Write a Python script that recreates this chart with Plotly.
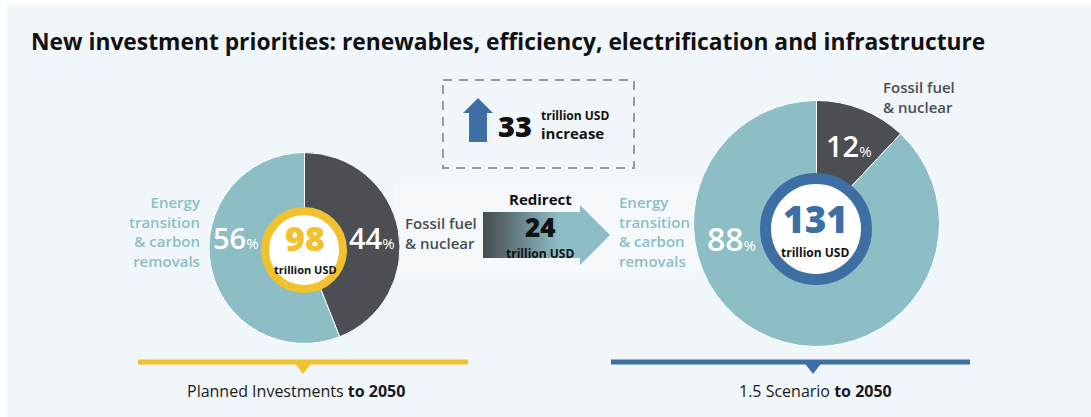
import plotly.graph_objects as go

W, H = 1091, 417

# ---------------- data ----------------
categories = ["Fossil fuel & nuclear", "Energy transition & carbon removals"]
planned_share = [44, 56]        # % of planned investments to 2050
scenario_share = [12, 88]       # % of 1.5 scenario investments to 2050
planned_total = 98              # trillion USD
scenario_total = 131            # trillion USD
redirect_amount = 24            # trillion USD
increase_amount = 33            # trillion USD
panel_titles = ["Planned Investments", "1.5 Scenario"]
horizon = "to 2050"
title_text = "New investment priorities: renewables, efficiency, electrification and infrastructure"

# ---------------- style ----------------
TEAL = "#8dbec5"
DARK = "#4b4e52"
YELLOW = "#f2c12e"
BLUE = "#3d6ea4"
BG = "#f1f6fa"
FONT = "Open Sans"


def dom(x0, x1, y0, y1):
    return dict(x=[x0 / W, x1 / W], y=[1 - y1 / H, 1 - y0 / H])


fig = go.Figure()

# decorative arrow (gradient) for "Redirect"
fig.add_trace(go.Scatter(
    x=[483, 580, 580, 610, 580, 580, 483, 483],
    y=[212, 212, 205, 235, 265, 258, 258, 212],
    mode="lines", fill="toself", line=dict(width=0),
    fillgradient=dict(type="horizontal",
                      colorscale=[[0, "#464b4f"], [0.6, TEAL], [1, TEAL]]),
    hoverinfo="skip", showlegend=False))

# blue up arrow
fig.add_trace(go.Scatter(
    x=[469, 469, 463, 478, 493, 487, 487, 469],
    y=[142, 113, 113, 98, 113, 113, 142, 142],
    mode="lines", fill="toself", line=dict(width=0), fillcolor=BLUE,
    hoverinfo="skip", showlegend=False))

# pies
fig.add_trace(go.Pie(
    values=planned_share, labels=categories, sort=False, direction="clockwise",
    rotation=0, marker=dict(colors=[DARK, TEAL], line=dict(color="white", width=1)),
    textinfo="none", hoverinfo="skip", showlegend=False,
    domain=dom(209, 400, 152.5, 343.5)))
fig.add_trace(go.Pie(
    values=scenario_share, labels=categories, sort=False, direction="clockwise",
    rotation=0, marker=dict(colors=[DARK, TEAL], line=dict(color="white", width=1)),
    textinfo="none", hoverinfo="skip", showlegend=False,
    domain=dom(693.5, 939.5, 100.5, 346.5)))

shapes = [
    # panel background
    dict(type="rect", xref="x", yref="y", x0=7, x1=W + 5, y0=5, y1=H + 5,
         fillcolor=BG, line=dict(width=0), layer="below"),
    # light band
    dict(type="rect", xref="x", yref="y", x0=395, x1=700, y0=182, y1=274,
         fillcolor="#f6f9fb", line=dict(width=0), layer="below"),
    # dashed box
    dict(type="rect", xref="x", yref="y", x0=443, x1=634, y0=80, y1=168,
         line=dict(color="#9a9a9a", width=2, dash="9px,7px"), layer="below"),
    # rings
    dict(type="circle", xref="x", yref="y", x0=304 - 39, x1=304 + 39,
         y0=250 - 39, y1=250 + 39, fillcolor="white",
         line=dict(color=YELLOW, width=8), layer="above"),
    dict(type="circle", xref="x", yref="y", x0=816 - 50.5, x1=816 + 50.5,
         y0=229 - 50.5, y1=229 + 50.5, fillcolor="white",
         line=dict(color=BLUE, width=11), layer="above"),
    # bottom lines
    dict(type="line", xref="x", yref="y", x0=138, x1=468, y0=362, y1=362,
         line=dict(color=YELLOW, width=5), layer="below"),
    dict(type="path", xref="x", yref="y", path="M 293 361 L 313 361 L 303 374 Z",
         fillcolor=YELLOW, line=dict(width=0), layer="below"),
    dict(type="line", xref="x", yref="y", x0=611, x1=970, y0=362, y1=362,
         line=dict(color=BLUE, width=5), layer="below"),
    dict(type="path", xref="x", yref="y", path="M 803 361 L 823 361 L 813 374 Z",
         fillcolor=BLUE, line=dict(width=0), layer="below"),
]

ann = []


def A(x, y, text, size, color, xanchor="center", align="center", weight=None,
      family=FONT):
    f = dict(size=size, color=color, family=family)
    if weight is not None:
        f["weight"] = weight
    ann.append(dict(x=x, y=y, xref="x", yref="y", text=text, showarrow=False,
                    xanchor=xanchor, yanchor="middle", align=align, font=f))


def pct(v):
    return f"{v}<span style='font-size:15px;font-weight:400'>%</span>"


A(29, 41, title_text, 22.8, "#111111", xanchor="left", weight=700)

lab_energy = "Energy<br>transition<br>& carbon<br>removals"
lab_fossil = "Fossil fuel<br>& nuclear"
A(203, 231, lab_energy, 15, TEAL, xanchor="right", align="right", weight=600)
A(617, 231, lab_energy, 15, TEAL, xanchor="left", align="left", weight=600)
A(403, 233, lab_fossil, 15, DARK, xanchor="left", align="left", weight=600)
A(881, 97, lab_fossil, 15, DARK, xanchor="left", align="left", weight=600)

A(236, 237, pct(planned_share[1]), 29, "white", weight=600)
A(372, 237, pct(planned_share[0]), 29, "white", weight=600)
A(849, 145, pct(scenario_share[0]), 29, "white", weight=600)
A(731, 238, pct(scenario_share[1]), 32, "white", weight=600)

A(305, 238, str(planned_total), 34, YELLOW, weight=800)
A(305, 269, "trillion USD", 11, "#111111", weight=700)
A(815, 218, str(scenario_total), 37, BLUE, weight=800)
A(815, 252, "trillion USD", 12, "#111111", weight=700)

A(540, 199, "Redirect", 15, "#111111", weight=700)
A(540, 227, str(redirect_amount), 26, "#111111", weight=800)
A(540, 253, "trillion USD", 12, "#111111", weight=700)

A(515, 125, str(increase_amount), 29, "#111111", weight=800)
A(539, 115, "trillion USD", 12, "#111111", xanchor="left", weight=700)
A(539, 133, "increase", 15, "#111111", xanchor="left", weight=700)

A(296, 391, f"{panel_titles[0]} <b>{horizon}</b>", 16, "#1a1a1a")
A(815, 391, f"{panel_titles[1]} <b>{horizon}</b>", 16, "#1a1a1a")

fig.update_layout(
    width=W, height=H, margin=dict(l=0, r=0, t=0, b=0),
    paper_bgcolor="white", plot_bgcolor="rgba(0,0,0,0)",
    xaxis=dict(range=[0, W], visible=False, fixedrange=True),
    yaxis=dict(range=[H, 0], visible=False, fixedrange=True),
    shapes=shapes, annotations=ann, showlegend=False,
    font=dict(family=FONT),
)

fig.write_html(
    "out.html",
    config={"displayModeBar": False},
    post_script="document.body.style.margin='0';document.body.style.padding='0';",
)
